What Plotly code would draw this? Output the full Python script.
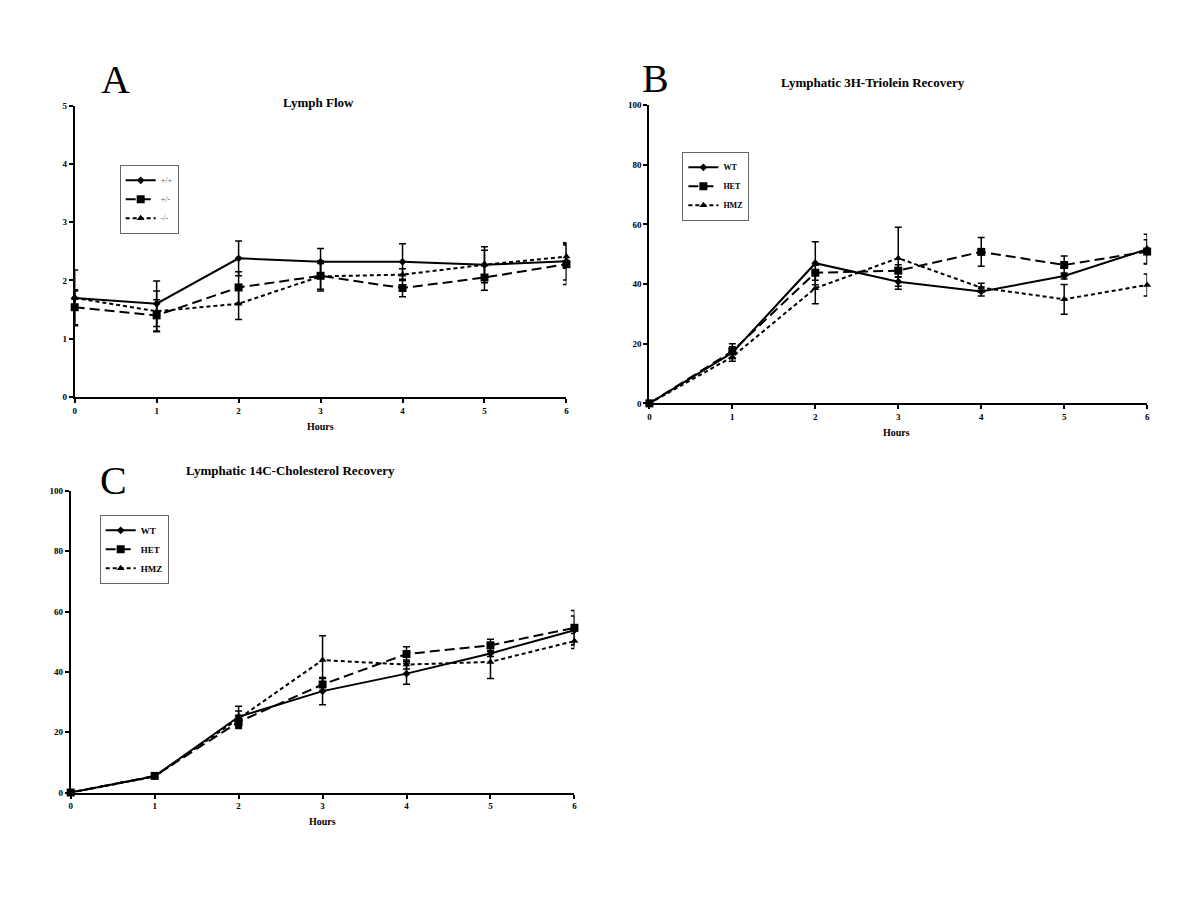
import plotly.graph_objects as go

hours = [0, 1, 2, 3, 4, 5, 6]
hour_labels = ["0", "1", "2", "3", "4", "5", "6"]

# Panel A - Lymph Flow
names_a = ["+/+", "+/-", "-/-"]
wt_a = [1.70, 1.60, 2.38, 2.32, 2.32, 2.27, 2.33]
wt_a_err = [0.48, 0.39, 0.30, 0.23, 0.31, 0.31, 0.32]
het_a = [1.54, 1.40, 1.88, 2.08, 1.87, 2.05, 2.28]
het_a_err = [0.30, 0.27, 0.27, 0.26, 0.15, 0.22, 0.35]
hmz_a = [1.70, 1.47, 1.60, 2.07, 2.10, 2.27, 2.41]
hmz_a_err = [0.12, 0.35, 0.27, 0.22, 0.10, 0.25, 0.20]

# Panel B - Lymphatic 3H-Triolein Recovery
names_bc = ["WT", "HET", "HMZ"]
wt_b = [0, 17.0, 47.0, 40.8, 37.5, 42.7, 51.7]
wt_b_err = [0, 2.0, 7.2, 1.5, 1.5, 1.0, 5.0]
het_b = [0, 17.5, 43.8, 44.5, 50.8, 46.4, 50.9]
het_b_err = [0, 2.5, 2.5, 2.0, 4.8, 3.0, 4.0]
hmz_b = [0, 15.6, 38.6, 48.7, 38.8, 34.9, 39.7]
hmz_b_err = [0, 1.5, 5.2, 10.4, 1.5, 5.0, 3.7]

# Panel C - Lymphatic 14C-Cholesterol Recovery
wt_c = [0, 5.4, 25.1, 33.6, 39.4, 46.1, 53.8]
wt_c_err = [0, 0.5, 3.5, 4.5, 3.5, 1.0, 4.7]
het_c = [0, 5.5, 23.4, 35.8, 45.9, 48.8, 54.6]
het_c_err = [0, 0.5, 2.2, 2.0, 2.4, 2.0, 5.7]
hmz_c = [0, 5.3, 24.5, 43.9, 42.4, 43.3, 50.2]
hmz_c_err = [0, 0.5, 2.5, 8.1, 1.5, 5.5, 2.5]

SERIF = "Liberation Serif, Times New Roman, serif"

styles = [
    dict(dash="solid", symbol="diamond", size=6),
    dict(dash="10px,5px", symbol="square", size=8),
    dict(dash="4px,3px", symbol="triangle-up", size=7),
]

fig = go.Figure()

def add_panel(xa, ya, legend, names, series):
    for (vals, errs), name, st in zip(series, names, styles):
        fig.add_trace(go.Scatter(
            x=hours, y=vals, name=name, mode="lines+markers",
            xaxis=xa, yaxis=ya, legend=legend,
            line=dict(color="black", width=2, dash=st["dash"]),
            marker=dict(color="black", symbol=st["symbol"], size=st["size"]),
            error_y=dict(type="data", array=errs, visible=True,
                         color="black", thickness=1.5, width=3.5),
            cliponaxis=False,
        ))

add_panel("x", "y", "legend", names_a,
          [(wt_a, wt_a_err), (het_a, het_a_err), (hmz_a, hmz_a_err)])
add_panel("x2", "y2", "legend2", names_bc,
          [(wt_b, wt_b_err), (het_b, het_b_err), (hmz_b, hmz_b_err)])
add_panel("x3", "y3", "legend3", names_bc,
          [(wt_c, wt_c_err), (het_c, het_c_err), (hmz_c, hmz_c_err)])

# page has an 8px body margin: figure sized so that the page is 1200x900
OFF = 8
W, H = 1200 - 2 * OFF, 900 - 2 * OFF

def px(t):
    x = (t - 1.3) / 0.9963
    return (x - OFF) / W

def py(t):
    y = (t - 5.2) / 0.9888
    return 1 - (y - OFF) / H

def xdom(a, b):
    return [px(a), px(b)]

def ydom(bottom_px, top_px):
    return [py(bottom_px), py(top_px)]

tickfont = dict(family=SERIF, size=9, color="black", weight="bold")

def xaxis_cfg(dom, anchor):
    return dict(domain=dom, anchor=anchor, range=[0, 6], tickmode="array",
                tickvals=hours, ticktext=hour_labels, showline=True,
                linecolor="black", linewidth=2, ticks="outside", ticklen=4,
                tickwidth=1.5, tickcolor="black", showgrid=False,
                zeroline=False, tickfont=tickfont)

def yaxis_cfg(dom, anchor, rng, dtick):
    return dict(domain=dom, anchor=anchor, range=rng, dtick=dtick,
                showline=True, linecolor="black", linewidth=2,
                ticks="outside", ticklen=4, tickwidth=1.5, tickcolor="black",
                showgrid=False, zeroline=False, tickfont=tickfont)

legend_common = dict(bgcolor="white", bordercolor="#666", borderwidth=1,
                     itemwidth=30, tracegroupgap=0, xanchor="left",
                     yanchor="top", itemclick=False)

fig.update_layout(
    width=W, height=H,
    margin=dict(l=0, r=0, t=0, b=0),
    paper_bgcolor="white", plot_bgcolor="white",
    showlegend=True,
    xaxis=xaxis_cfg(xdom(74, 566), "y"),
    yaxis=yaxis_cfg(ydom(397, 106), "x", [0, 5], 1),
    xaxis2=xaxis_cfg(xdom(649, 1147), "y2"),
    yaxis2=yaxis_cfg(ydom(403.5, 105.3), "x2", [0, 100], 20),
    xaxis3=xaxis_cfg(xdom(70, 574), "y3"),
    yaxis3=yaxis_cfg(ydom(792.7, 491), "x3", [0, 100], 20),
    legend=dict(x=px(119), y=py(165),
                font=dict(family=SERIF, size=8, color="#555"), **legend_common),
    legend2=dict(x=px(682), y=py(152),
                 font=dict(family=SERIF, size=8, color="black", weight="bold"),
                 **legend_common),
    legend3=dict(x=px(99), y=py(515),
                 font=dict(family=SERIF, size=9, color="black", weight="bold"),
                 **legend_common),
)

def ann(text, x, y, size, bold=True):
    fig.add_annotation(text=f"<b>{text}</b>" if bold else text,
                       x=px(x), y=py(y), xref="paper", yref="paper",
                       showarrow=False, xanchor="center", yanchor="middle",
                       font=dict(family=SERIF, size=size, color="black"))

ann("A", 115, 80, 40, bold=False)
ann("B", 655, 79, 40, bold=False)
ann("C", 113, 481, 40, bold=False)
ann("Lymph Flow", 318, 103, 13)
ann("Lymphatic 3H-Triolein Recovery", 873, 83, 13)
ann("Lymphatic 14C-Cholesterol Recovery", 290, 471, 13)
ann("Hours", 320, 427, 10)
ann("Hours", 896, 433, 10)
ann("Hours", 322, 822, 10)

fig.write_html("out.html")
